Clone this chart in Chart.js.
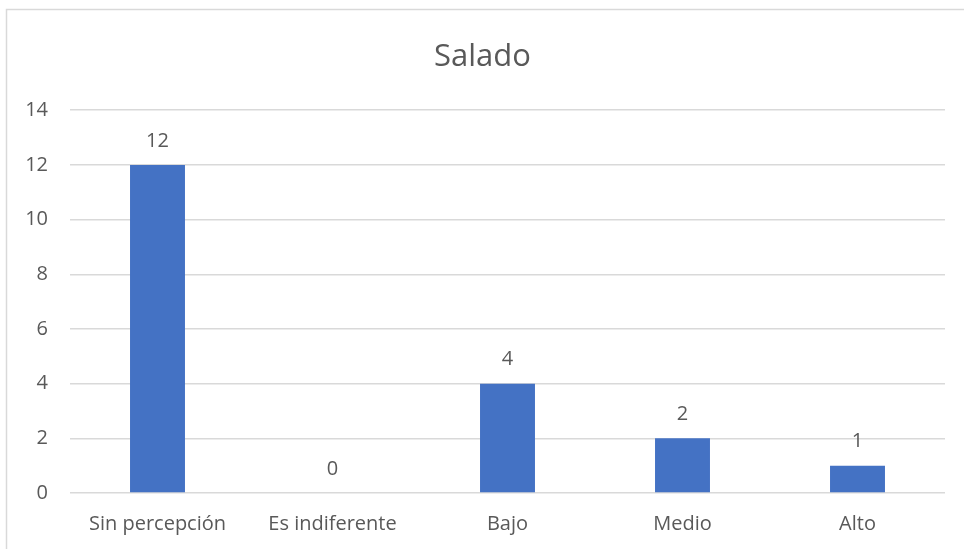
<!DOCTYPE html>
<html>
<head>
<meta charset="utf-8">
<script src="https://cdn.jsdelivr.net/npm/chart.js@4.4.1/dist/chart.umd.min.js"></script>
<style>
  html, body { margin: 0; padding: 0; background: #fff; }
  #wrap { width: 964px; height: 549px; }
</style>
</head>
<body>
<div id="wrap"><canvas id="chart" width="964" height="549"></canvas></div>
<script>
  const CATEGORIES = ['Sin percepción', 'Es indiferente', 'Bajo', 'Medio', 'Alto'];
  const VALUES = [12, 0, 4, 2, 1];
  const Y_TICKS = [0, 2, 4, 6, 8, 10, 12, 14];

  const TEXT = '#595959';
  const GRID = '#D9D9D9';
  const BAR = '#4472C4';
  const FONT = '"Open Sans", "Noto Sans", sans-serif';

  // light frame around the whole chart object
  const frame = {
    id: 'frame',
    beforeDraw(chart) {
      const c = chart.ctx;
      c.save();
      c.strokeStyle = GRID;
      c.lineWidth = 1.5;
      c.strokeRect(6.5, 9.5, chart.width + 20, chart.height + 20);
      c.restore();
    },
  };

  // value above each bar
  const valueLabels = {
    id: 'valueLabels',
    afterDatasetsDraw(chart) {
      const c = chart.ctx;
      const meta = chart.getDatasetMeta(0);
      c.save();
      c.fillStyle = TEXT;
      c.font = '20px ' + FONT;
      c.textAlign = 'center';
      c.textBaseline = 'middle';
      meta.data.forEach((bar, i) => {
        c.fillText(String(VALUES[i]), bar.x, bar.y - 24);
      });
      c.restore();
    },
  };

  new Chart(document.getElementById('chart').getContext('2d'), {
    type: 'bar',
    data: {
      labels: CATEGORIES,
      datasets: [{
        data: VALUES,
        backgroundColor: BAR,
        borderWidth: 0,
        categoryPercentage: 1,
        barPercentage: 0.314,
      }],
    },
    options: {
      responsive: false,
      animation: false,
      layout: { padding: { left: 20, right: 19, top: 0, bottom: 0 } },
      plugins: {
        legend: { display: false },
        tooltip: { enabled: false },
        title: {
          display: true,
          text: 'Salado',
          color: TEXT,
          font: { family: FONT, size: 31, weight: 'normal' },
          padding: { top: 39, bottom: 34 },
        },
      },
      scales: {
        x: {
          grid: { display: false, drawTicks: false },
          border: { display: false },
          ticks: { color: TEXT, font: { family: FONT, size: 20 }, padding: 19, maxRotation: 0 },
          afterFit(scale) { scale.height = 56; },
        },
        y: {
          min: 0,
          max: 14,
          afterBuildTicks(scale) { scale.ticks = Y_TICKS.map((v) => ({ value: v })); },
          grid: { color: GRID, lineWidth: 1.5, drawTicks: false },
          border: { display: false },
          ticks: { color: TEXT, font: { family: FONT, size: 20 }, padding: 22 },
          afterFit(scale) { scale.width = 50; },
        },
      },
    },
    plugins: [frame, valueLabels],
  });
</script>
</body>
</html>
